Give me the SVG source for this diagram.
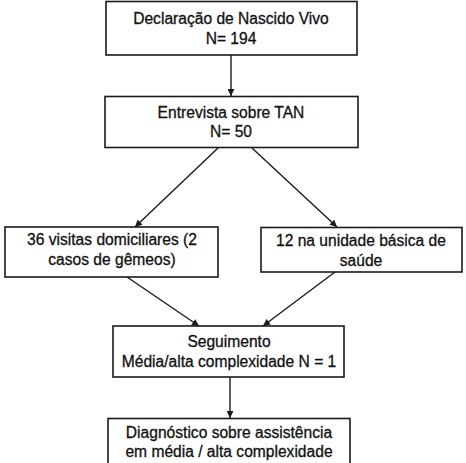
<svg xmlns="http://www.w3.org/2000/svg" width="466" height="463" viewBox="0 0 466 463">
<style>
  .box { fill: #ffffff; stroke: #1a1a1a; stroke-width: 1.6; }
  .t { font-family: "Liberation Sans", Arial, sans-serif; font-size: 15.6px; fill: #111111; stroke: #111111; stroke-width: 0.3; text-anchor: middle; }
  .c { stroke: #1a1a1a; stroke-width: 1.4; fill: none; marker-end: url(#ah); }
</style>
<defs>
  <marker id="ah" viewBox="0 0 10 10" refX="10" refY="5" markerWidth="8" markerHeight="7" markerUnits="userSpaceOnUse" orient="auto">
    <path d="M0,0 L10,5 L0,10 z" fill="#1a1a1a"/>
  </marker>
</defs>
<rect width="466" height="463" fill="#ffffff"/>
<g id="connectors">
  <line class="c" x1="231" y1="55" x2="231" y2="96"/>
  <line class="c" x1="218" y1="148" x2="135" y2="227"/>
  <line class="c" x1="252" y1="148" x2="337" y2="227"/>
  <line class="c" x1="127" y1="277" x2="199" y2="326"/>
  <line class="c" x1="335" y1="272" x2="263" y2="326"/>
  <line class="c" x1="230" y1="377" x2="230" y2="418"/>
</g>
<g id="n1">
  <rect class="box" x="106" y="1.5" width="251" height="53.5"/>
  <text class="t" x="231" y="24">Declaração de Nascido Vivo</text>
  <text class="t" x="231" y="44">N= 194</text>
</g>
<g id="n2">
  <rect class="box" x="105" y="96.5" width="253" height="51"/>
  <text class="t" x="231" y="118">Entrevista sobre TAN</text>
  <text class="t" x="231" y="137">N= 50</text>
</g>
<g id="n3">
  <rect class="box" x="5" y="227" width="213" height="50"/>
  <text class="t" x="112" y="245">36 visitas domiciliares (2</text>
  <text class="t" x="112" y="265">casos de gêmeos)</text>
</g>
<g id="n4">
  <rect class="box" x="261" y="227.5" width="201" height="44.5"/>
  <text class="t" x="361" y="246">12 na unidade básica de</text>
  <text class="t" x="361" y="266">saúde</text>
</g>
<g id="n5">
  <rect class="box" x="113" y="326" width="231" height="51"/>
  <text class="t" x="229" y="347">Seguimento</text>
  <text class="t" x="229" y="367">Média/alta complexidade N = 1</text>
</g>
<g id="n6">
  <rect class="box" x="108" y="418.5" width="242" height="60"/>
  <text class="t" x="229" y="438">Diagnóstico sobre assistência</text>
  <text class="t" x="229" y="457">em média / alta complexidade</text>
</g>
</svg>
